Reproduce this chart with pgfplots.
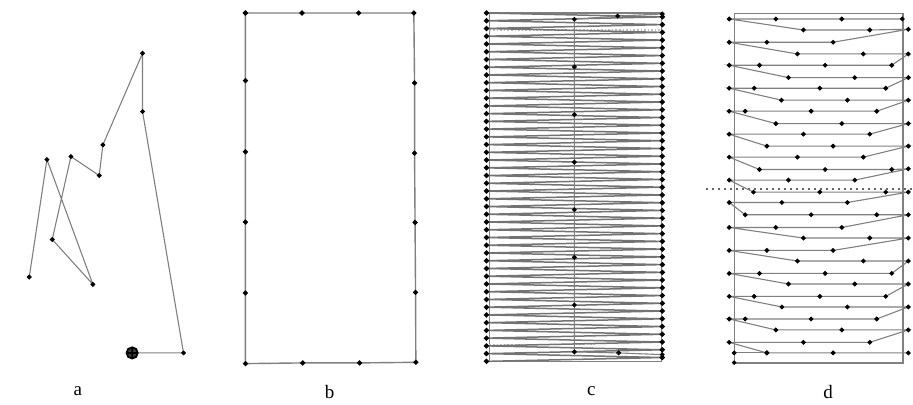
\documentclass[border=0pt]{standalone}
\usepackage{pgfplots}
\pgfplotsset{compat=1.18}
\usepackage{fontspec}
\setmainfont{Liberation Serif}
\begin{document}
\begin{tikzpicture}
\begin{axis}[
    width=456.5pt, height=202.5pt, scale only axis,
    xmin=0, xmax=913, ymin=0, ymax=405, y dir=reverse,
    axis lines=none, clip=false,
    path/.style={draw=black!50, line width=0.55pt, mark=*, mark size=0.9pt,
        mark options={draw=black, fill=black, solid}},
    frame/.style={draw=black!50, line width=0.6pt, no marks},
]
% invisible box for the page size
\addplot[draw=none, no marks] coordinates {(0,0) (913,405)};

% --- a: free flight path
\addplot[path] coordinates {
    (29.3,277.3) (47,159.7) (93,284.7) (52.3,239.7) (71,156.7) (99.3,175.7)
    (103,145) (142.7,53.3) (142.7,111.7) (183.7,353.3) (132.3,353.3)
};
\addplot[only marks, mark=oplus*, mark size=2.8pt, mark options={draw=black, fill=black!75, line width=0.9pt}]
    coordinates {(132.3,353.3)};

% --- b: perimeter
\addplot[path, line width=0.7pt] coordinates {
    (245.7,13) (302.3,13) (359,13) (414.3,13) (415,83) (415,153.3) (415.5,222.7)
    (416,292.7) (416.3,362.7) (360,363.3) (303,363.3) (245.7,364) (245.7,293.3)
    (245.7,222.3) (245.7,152) (245.7,80.7) (245.7,13)
};

% --- c: dense zigzag
\addplot[frame] coordinates {(490,13) (490,362) (662,362) (662,13) (487,13)};
\addplot[densely dotted, draw=black!25, line width=0.8pt] coordinates {(490,30) (662,30)};
\addplot[densely dotted, draw=black!25, line width=0.8pt] coordinates {(490,345) (597,345)};
\addplot[path, draw=black!55, line width=0.75pt] coordinates {
    (487,13.00) (663,16.90) (487,20.75) (663,24.65) (487,28.50) (663,32.40)
    (487,36.25) (663,40.15) (487,44.00) (663,47.90) (487,51.75) (663,55.65)
    (487,59.50) (663,63.40) (487,67.25) (663,71.15) (487,75.00) (663,78.90)
    (487,82.75) (663,86.65) (487,90.50) (663,94.40) (487,98.25) (663,102.15)
    (487,106.00) (663,109.90) (487,113.75) (663,117.65) (487,121.50) (663,125.40)
    (487,129.25) (663,133.15) (487,137.00) (663,140.90) (487,144.75) (663,148.65)
    (487,152.50) (663,156.40) (487,160.25) (663,164.15) (487,168.00) (663,171.90)
    (487,175.75) (663,179.65) (487,183.50) (663,187.40) (487,191.25) (663,195.15)
    (487,199.00) (663,202.90) (487,206.75) (663,210.65) (487,214.50) (663,218.40)
    (487,222.25) (663,226.15) (487,230.00) (663,233.90) (487,237.75) (663,241.65)
    (487,245.50) (663,249.40) (487,253.25) (663,257.15) (487,261.00) (663,264.90)
    (487,268.75) (663,272.65) (487,276.50) (663,280.40) (487,284.25) (663,288.15)
    (487,292.00) (663,295.90) (487,299.75) (663,303.65) (487,307.50) (663,311.40)
    (487,315.25) (663,319.15) (487,323.00) (663,326.90) (487,330.75) (663,334.65)
    (487,338.50) (663,342.40) (487,346.25) (663,350.15) (487,354.00) (663,357.90)
    (487,361.75)
};
\addplot[path] coordinates {
    (663,14) (618.3,16) (575,19.3) (575,67) (575,114.7) (575,162.3) (575,210)
    (575,257.7) (575,305.3) (575,352.3) (619.3,353.3) (663,355)
};

% --- d: offset rows
\addplot[frame] coordinates {(735,13.3) (904,13.3) (904,363.3) (735,363.3) (735,13.3)};
\addplot[dotted, draw=black!60, line width=1pt] coordinates {(706.7,189) (913,189)};
\addplot[path] coordinates {
    (903.3,19) (842.7,19) (776.7,19) (730,19)
    (804.3,30) (870.7,30) (909.3,29.3)
    (834,42.3) (767.7,42.3) (730,42.3)
    (798.3,54) (864.3,54) (909.3,54)
    (892.7,65.3) (826,65.3) (760.3,65.3) (730,65.3)
    (789.3,77.7) (855.7,77.7) (909.3,77.7)
    (886.7,88.3) (820.7,88.3) (755,88.3) (730,88.3)
    (782.3,100.3) (848.3,100.3) (909.3,100.3)
    (877.7,111.3) (812,111.3) (746,111.3) (730,111.3)
    (776.7,123.7) (842.7,123.7) (909.3,123.7)
    (870.7,134.3) (804.3,134.3) (730,134.3)
    (767.7,146.3) (834,146.3) (909.3,146.3)
    (864.3,157.3) (798.3,157.3) (730,157.3)
    (760.3,169.7) (826,169.7) (892.7,169.7) (909.3,169)
    (855.7,180.3) (789.3,180.3) (730,180.3)
    (754.3,192.3) (820.7,192.3) (886.7,192.3) (909.3,192.3)
    (848.3,202.7) (782.7,202.7) (730,202.7)
    (746,215) (812,215) (877.7,215) (909.3,215)
    (842.7,227.7) (776.7,227.7) (730,227.7)
    (804.3,238.3) (870.7,238.3) (909.3,238.3)
    (834,250.7) (767.7,250.7) (730,250.7)
    (798.3,261.3) (864.3,261.3) (909.3,261.3)
    (892.7,273.7) (826,273.7) (760.3,273.7) (730,273.7)
    (789.3,284.3) (855.7,284.3) (909.3,284.3)
    (886.7,296.7) (820.7,296.7) (755,296.7) (730,296.7)
    (782.7,307.3) (848.3,307.3) (909.3,307.3)
    (877.7,319.3) (812,319.3) (746,319.3) (730,319.3)
    (776.7,330.3) (842.7,330.3) (909.3,330.3)
    (870.7,342.7) (804.3,342.7) (730,342.7)
    (767.7,353.3) (834,353.3) (909.3,353.3)
};
\addplot[path] coordinates {(735,353.3) (767.7,353.3)};
\addplot[only marks, mark=*, mark size=0.9pt, mark options={fill=black}] coordinates {(735,363)};

% --- panel labels
\node[font=\fontsize{9.5}{11}\selectfont] at (axis cs:78,392) {a};
\node[font=\fontsize{9.5}{11}\selectfont] at (axis cs:330,392) {b};
\node[font=\fontsize{9.5}{11}\selectfont] at (axis cs:592,392) {c};
\node[font=\fontsize{9.5}{11}\selectfont] at (axis cs:829,392) {d};
\end{axis}
\end{tikzpicture}
\end{document}
